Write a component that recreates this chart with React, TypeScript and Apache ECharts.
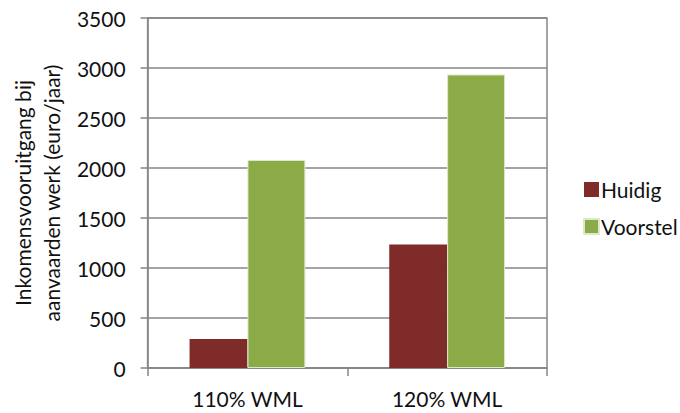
import React, { useEffect, useRef } from "react";
import * as echarts from "echarts";

const categories = ["110% WML", "120% WML"];
const huidig = [290, 1235];
const voorstel = [2080, 2935];
const seriesNames = ["Huidig", "Voorstel"];
const yAxisName = "Inkomensvooruitgang bij\naanvaarden werk (euro/jaar)";

const FONT = "Lato";
const GRID_COLOR = "#868686";
const TEXT_COLOR = "#111111";

export default function App() {
  const ref = useRef<HTMLDivElement>(null);
  useEffect(() => {
    if (!ref.current) return;
    const chart = echarts.init(ref.current, undefined, { renderer: "svg" });
    chart.setOption({
      animation: false,
      textStyle: { fontFamily: FONT },
      grid: {
        left: 140,
        right: 133,
        top: 18,
        bottom: 45,
        show: true,
        borderColor: GRID_COLOR,
        borderWidth: 1.5,
      },
      legend: {
        orient: "vertical",
        left: 578,
        top: 174,
        itemWidth: 15,
        itemHeight: 15,
        itemGap: 16,
        icon: "rect",
        data: seriesNames,
        textStyle: { fontFamily: FONT, fontSize: 21, color: TEXT_COLOR, padding: [0, 0, 0, -3] },
      },
      xAxis: {
        type: "category",
        data: categories,
        boundaryGap: true,
        axisLine: { lineStyle: { color: GRID_COLOR, width: 1.5 } },
        axisTick: { show: true, length: 8, lineStyle: { color: GRID_COLOR, width: 1.5 } },
        axisLabel: { margin: 20, fontSize: 21, color: TEXT_COLOR, fontFamily: FONT },
      },
      yAxis: {
        type: "value",
        min: 0,
        max: 3500,
        interval: 500,
        name: yAxisName,
        nameLocation: "middle",
        nameGap: 74,
        nameTextStyle: { fontFamily: FONT, fontSize: 21, color: TEXT_COLOR, lineHeight: 29 },
        axisLine: { show: true, lineStyle: { color: GRID_COLOR, width: 1.5 } },
        axisTick: { show: true, length: 7, lineStyle: { color: GRID_COLOR, width: 1.5 } },
        axisLabel: {
          margin: 22,
          fontSize: 21,
          color: TEXT_COLOR,
          fontFamily: FONT,
          formatter: (v: number) => String(v),
        },
        splitLine: { lineStyle: { color: GRID_COLOR, width: 1.5 } },
      },
      series: [
        {
          name: seriesNames[0],
          type: "bar",
          data: huidig,
          barGap: "0%",
          barCategoryGap: "42%",
          itemStyle: { color: "#7F2B2A" },
        },
        {
          name: seriesNames[1],
          type: "bar",
          data: voorstel,
          barGap: "0%",
          barCategoryGap: "42%",
          itemStyle: { color: "#8AAB47", borderColor: "#DCE8C8", borderWidth: 1 },
        },
      ],
    });
    return () => chart.dispose();
  }, []);
  return <div ref={ref} style={{ width: 680, height: 413, position: "absolute", left: 0, top: 0, background: "#fff" }} />;
}
